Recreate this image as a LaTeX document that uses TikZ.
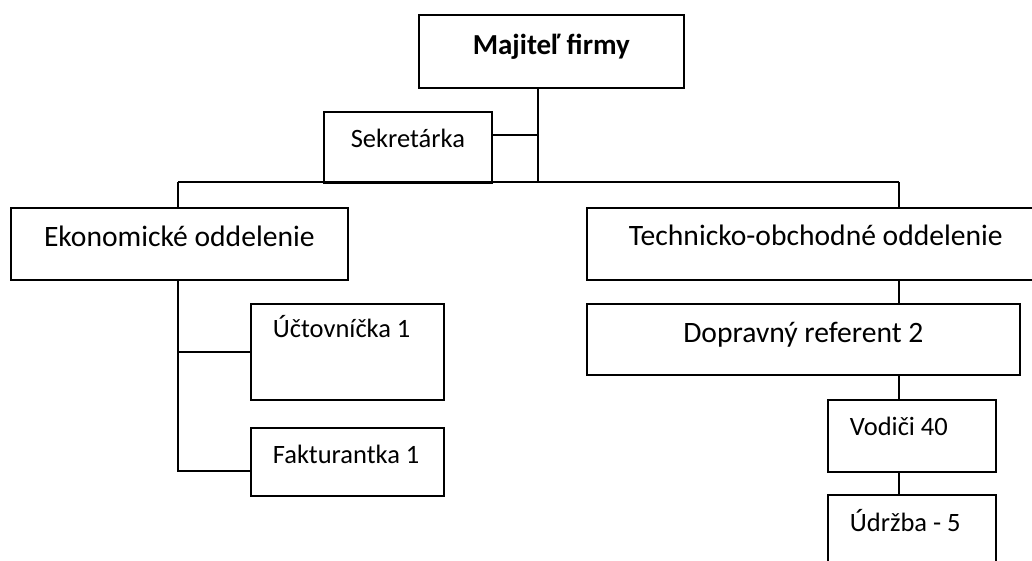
\documentclass[tikz,border=0pt]{standalone}
\usepackage{fontspec}
\setmainfont{Carlito}
\usetikzlibrary{positioning}

\begin{document}
\begin{tikzpicture}[
  x=1pt, y=-1pt,
  box/.style={draw, line width=1.7pt, inner sep=0pt, anchor=north west},
  leftbox/.style={box, inner xsep=22pt, align=flush left},
  big/.style={font=\fontsize{29.6}{35}\selectfont},
  small/.style={font=\fontsize{26.5}{32}\selectfont},
  line/.style={line width=1.3pt}
]
  \useasboundingbox (0,0) rectangle (1032,561);
  \clip (0,0) rectangle (1032,561);

  % vedenie
  \node[box, font=\fontsize{29}{35}\selectfont\bfseries, minimum width=265pt, text height=40pt, text depth=33pt] (boss) at (418,14) {Majiteľ firmy};
  \node[box, small, minimum width=168pt, text height=36pt, text depth=35pt] (sek) at (323,111) {Sekretárka};

  % oddelenia
  \node[box, big, minimum width=337pt, text height=39pt, text depth=33pt] (eko) at (10,207) {Ekonomické oddelenie};
  \node[box, big, minimum width=458pt, text height=38pt, text depth=34pt] (tech) at (586,207) {Technicko-obchodné oddelenie};

  \node[leftbox, small, text width=149pt, text height=34pt, text depth=62pt] (ucto) at (250,303) {Účtovníčka~1};
  \node[leftbox, small, text width=149pt, text height=36pt, text depth=32pt] (fakt) at (250,427) {Fakturantka~1};

  \node[box, big, minimum width=433pt, text height=39pt, text depth=32pt] (dopr) at (586,303) {Dopravný referent 2};
  \node[leftbox, small, text width=124pt, text height=36pt, text depth=36pt] (vod) at (827,399) {Vodiči~40};
  \node[leftbox, small, text width=124pt, text height=37pt, text depth=70pt] (udr) at (827,494) {Údržba~-~5};

  % spojnice
  \coordinate (barL) at (178,182);
  \coordinate (barR) at (899,182);
  \coordinate (trunk) at (538,182);

  \draw[line] (trunk |- boss.south) -- (trunk);
  \draw[line] ([yshift=-24pt]sek.north east) -- ([yshift=-24pt]sek.north east -| trunk);
  \draw[line] (barL) -- (barR);
  \draw[line] (barL) -- (eko.north -| barL);
  \draw[line] (barR) -- (tech.north -| barR);

  \draw[line] (eko.south -| barL) |- ([yshift=-44pt]fakt.north west);
  \draw[line] (ucto.west -| barL) -- (ucto.west);

  \draw[line] (tech.south -| barR) -- (dopr.north -| barR);
  \draw[line] (dopr.south -| barR) -- (vod.north -| barR);
  \draw[line] (vod.south -| barR) -- (udr.north -| barR);
\end{tikzpicture}
\end{document}
